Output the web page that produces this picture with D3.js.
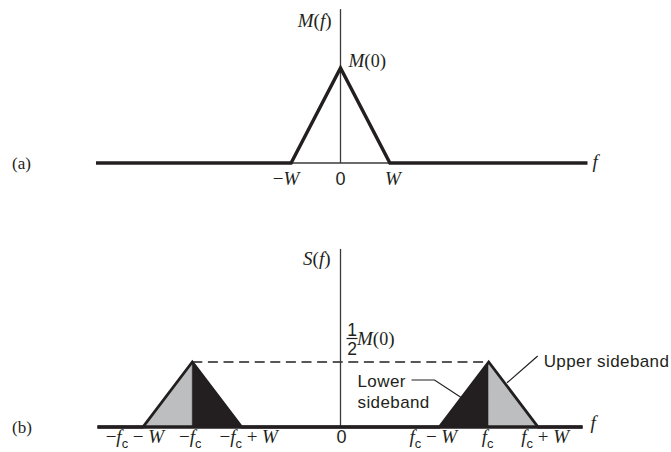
<!DOCTYPE html>
<html>
<head>
<meta charset="utf-8">
<script src="https://cdn.jsdelivr.net/npm/d3@7"></script>
<style>
  html, body { margin: 0; padding: 0; background: #fff; }
  svg { display: block; }
</style>
</head>
<body>
<svg id="chart" width="671" height="452"></svg>
<script>
// Frequency is measured in units of the message bandwidth W; carrier fc = 3W.
const W = 1;
const fc = 3;

// (a) message spectrum M(f): triangle of height M(0) over -W..W
const freqA = [-4.95, -W, 0, W, 5.0];
const magA  = [0, 0, 1, 0, 0];
const ticksA = [
  { f: -W, label: "−W" },
  { f: 0,  label: "0" },
  { f: W,  label: "W" }
];

// (b) DSB-SC spectrum S(f): two triangles of height M(0)/2 centred on ±fc
const freqB = [-4.92, -fc - W, -fc, -fc + W, fc - W, fc, fc + W, 4.9];
const magB  = [0, 0, 0.5, 0, 0, 0.5, 0, 0];
const sidebands = [
  { from: -fc - W, to: -fc,     kind: "upper" },
  { from: -fc,     to: -fc + W, kind: "lower" },
  { from: fc - W,  to: fc,      kind: "lower" },
  { from: fc,      to: fc + W,  kind: "upper" }
];
const peakB = 0.5;
const ticksB = [
  { f: -fc - W, label: "−f_c − W" },
  { f: -fc,     label: "−f_c" },
  { f: -fc + W, label: "−f_c + W" },
  { f: 0,       label: "0" },
  { f: fc - W,  label: "f_c − W" },
  { f: fc,      label: "f_c" },
  { f: fc + W,  label: "f_c + W" }
];

// ---- layout ----
const BLACK = "#231f20";
const GREY = "#bcbec0";
const AXIS = "#3a3a3a";
const SERIF = "'Liberation Serif', 'DejaVu Serif', serif";
const SANS = "'Liberation Sans', Arial, sans-serif";

const svg = d3.select("#chart");

const x = d3.scaleLinear().domain([-5, 5]).range([93.5, 587.5]);
const yA = d3.scaleLinear().domain([0, 1]).range([163, 68]);
const yB = d3.scaleLinear().domain([0, 0.5]).range([427, 362]);

// label nudges so neighbouring tick labels do not collide
const tickNudgeA = [-5, 0, 3];
const tickNudgeB = [-8, -2, 7, 1, -6, -1, 7];

// Writes a math-style label: Latin letters italic serif, "_c" a sans subscript,
// digits sans (or serif when asked), everything else upright serif.
function mathText(sel, str, size, opts = {}) {
  const digitFont = opts.digitSerif ? SERIF : SANS;
  const tokens = [];
  for (let i = 0; i < str.length; i++) {
    const ch = str[i];
    if (ch === "_") {
      tokens.push({ t: str[i + 1], sub: true });
      i++;
    } else if (/[A-Za-z]/.test(ch)) {
      tokens.push({ t: ch, font: SERIF, italic: true });
    } else if (/[0-9]/.test(ch)) {
      tokens.push({ t: ch, font: digitFont, digit: true });
    } else {
      tokens.push({ t: ch, font: SERIF });
    }
  }
  let shift = 0;
  tokens.forEach(tok => {
    const ts = sel.append("tspan").text(tok.t).attr("xml:space", "preserve");
    if (tok.sub) {
      ts.attr("font-family", SANS).attr("font-size", size * 0.68)
        .attr("dy", 4.5 - shift);
      shift = 4.5;
    } else {
      ts.attr("font-family", tok.font)
        .attr("font-style", tok.italic ? "italic" : "normal")
        .attr("font-size", tok.digit ? size * 0.95 : size);
      if (shift) { ts.attr("dy", -shift); shift = 0; }
    }
  });
  return sel;
}

function label(g, str, px, py, size, anchor, opts) {
  const t = g.append("text")
    .attr("x", px).attr("y", py)
    .attr("text-anchor", anchor || "start")
    .attr("fill", BLACK)
    .style("white-space", "pre");
  mathText(t, str, size, opts);
  return t;
}

// ================= (a) =================
const gA = svg.append("g");

// thin frequency axis under the triangle
gA.append("line")
  .attr("x1", x(-W)).attr("x2", x(W))
  .attr("y1", yA(0)).attr("y2", yA(0))
  .attr("stroke", AXIS).attr("stroke-width", 1.3);

// vertical axis
gA.append("line")
  .attr("x1", x(0)).attr("x2", x(0))
  .attr("y1", yA(1.62)).attr("y2", yA(0))
  .attr("stroke", AXIS).attr("stroke-width", 1.3);

// spectrum
const lineA = d3.line().x((d, i) => x(freqA[i])).y((d, i) => yA(magA[i]));
gA.append("path")
  .attr("d", lineA(magA))
  .attr("fill", "none").attr("stroke", BLACK)
  .attr("stroke-width", 3.4).attr("stroke-linejoin", "miter");

ticksA.forEach((t, i) => {
  label(gA, t.label, x(t.f) + tickNudgeA[i], 185, 19, "middle");
});

label(gA, "M(f)", x(0) - 9, 27, 19, "end");
label(gA, "M(0)", x(0) + 8, 67, 19, "start", { digitSerif: true });
label(gA, "f", x(5.0) + 5, 168, 19, "start");
gA.append("text").attr("x", 12).attr("y", 169)
  .attr("font-family", SERIF).attr("font-size", 17).attr("fill", BLACK)
  .text("(a)");

// ================= (b) =================
const gB = svg.append("g");

// shaded sideband halves
const triArea = d3.area()
  .x(d => x(d[0])).y0(yB(0)).y1(d => yB(d[1]));
sidebands.forEach(s => {
  const atCentre = Math.abs(s.from) === fc ? s.from : s.to;
  const pts = [[s.from, atCentre === s.from ? peakB : 0],
               [s.to,   atCentre === s.to   ? peakB : 0]];
  gB.append("path")
    .attr("d", triArea(pts))
    .attr("fill", s.kind === "upper" ? GREY : BLACK)
    .attr("stroke", s.kind === "upper" ? GREY : BLACK)
    .attr("stroke-width", 0.6);
});

// dashed level line at M(0)/2
gB.append("line")
  .attr("x1", x(-fc)).attr("x2", x(fc))
  .attr("y1", yB(peakB)).attr("y2", yB(peakB))
  .attr("stroke", BLACK).attr("stroke-width", 1.4)
  .attr("stroke-dasharray", "10,5.6");

// vertical axis
gB.append("line")
  .attr("x1", x(0)).attr("x2", x(0))
  .attr("y1", yB(1.37)).attr("y2", yB(0))
  .attr("stroke", AXIS).attr("stroke-width", 1.3);

// full baseline plus triangle outlines
const lineB = d3.line().x((d, i) => x(freqB[i])).y((d, i) => yB(magB[i]));
gB.append("line")
  .attr("x1", x(freqB[0])).attr("x2", x(freqB[freqB.length - 1]))
  .attr("y1", yB(0)).attr("y2", yB(0))
  .attr("stroke", BLACK).attr("stroke-width", 3.4);
gB.append("path")
  .attr("d", lineB(magB))
  .attr("fill", "none").attr("stroke", BLACK)
  .attr("stroke-width", 2.8).attr("stroke-linejoin", "miter");

ticksB.forEach((t, i) => {
  label(gB, t.label, x(t.f) + tickNudgeB[i], 443, 19, "middle");
});

label(gB, "S(f)", x(0) - 10, 265, 19, "end");
label(gB, "f", x(4.9) + 8, 429, 19, "start");
gB.append("text").attr("x", 12).attr("y", 433)
  .attr("font-family", SERIF).attr("font-size", 17).attr("fill", BLACK)
  .text("(b)");

// ½ M(0) peak label
const fx = x(0) + 11.5;
gB.append("text").attr("x", fx).attr("y", yB(peakB) - 26)
  .attr("text-anchor", "middle").attr("font-family", SANS)
  .attr("font-size", 17.5).attr("fill", BLACK).text("1");
gB.append("line")
  .attr("x1", fx - 5.5).attr("x2", fx + 5.5)
  .attr("y1", yB(peakB) - 23.5).attr("y2", yB(peakB) - 23.5)
  .attr("stroke", BLACK).attr("stroke-width", 1.2);
gB.append("text").attr("x", fx).attr("y", yB(peakB) - 7)
  .attr("text-anchor", "middle").attr("font-family", SANS)
  .attr("font-size", 17.5).attr("fill", BLACK).text("2");
label(gB, "M(0)", fx + 5, yB(peakB) - 17, 19, "start", { digitSerif: true });

// sideband annotations
const note = gB.append("g").attr("font-family", SANS).attr("font-size", 17)
  .attr("fill", BLACK).attr("letter-spacing", 0.4);
note.append("text").attr("x", x(0) + 17).attr("y", 387).text("Lower");
note.append("text").attr("x", x(0) + 17).attr("y", 408).text("sideband");
note.append("text").attr("x", x(fc) + 55).attr("y", 367).text("Upper sideband");

// leader lines to the sideband edges
const lowerTip = [x(fc - W) + 0.45 * (x(fc) - x(fc - W)), yB(0.45 * peakB)];
const upperTip = [x(fc) + (1 - 0.68) * (x(fc + W) - x(fc)) + 2.5, yB(0.68 * peakB)];
gB.append("path")
  .attr("d", d3.line()([[x(0) + 71, 380], [x(0) + 94, 380], lowerTip]))
  .attr("fill", "none").attr("stroke", BLACK).attr("stroke-width", 1.2);
gB.append("path")
  .attr("d", d3.line()([[x(fc) + 49, 356], upperTip]))
  .attr("fill", "none").attr("stroke", BLACK).attr("stroke-width", 1.2);
</script>
</body>
</html>
